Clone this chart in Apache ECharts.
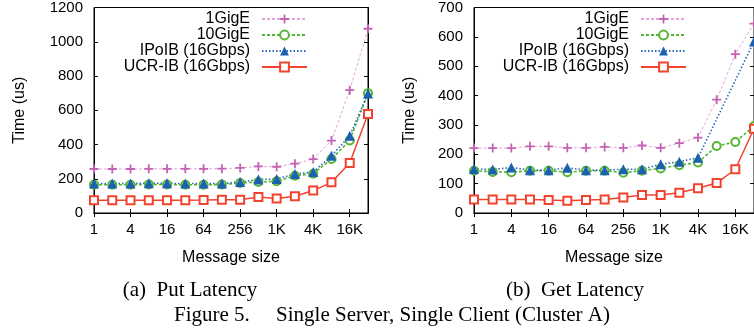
<!DOCTYPE html>
<html>
<head>
<meta charset="utf-8">
<script src="https://cdn.jsdelivr.net/npm/echarts@6/dist/echarts.min.js"></script>
<style>
html,body{margin:0;padding:0;background:#fff;}
#c{width:754px;height:329px;}
</style>
</head>
<body>
<div id="c"></div>
<script>
// Message sizes (bytes), log2 spaced
const categories = ['1','2','4','8','16','32','64','128','256','512','1K','2K','4K','8K','16K','32K'];
const seriesNames = ['1GigE','10GigE','IPoIB (16Gbps)','UCR-IB (16Gbps)'];

// (a) Put Latency, Time (us)
const putOneGigE  = [257,257,257,258,258,258,258,259,263,272,270,288,315,423,717,1076];
const putTenGigE  = [165,165,165,167,166,165,165,166,175,181,185,218,229,315,424,700];
const putIPoIB    = [172,172,172,174,173,172,172,172,181,195,199,228,239,334,451,698];
const putUCRIB    = [75,75,75,75,75,75,76,78,78,94,84,98,131,179,292,578];

// (b) Get Latency, Time (us)
const getOneGigE  = [221,221,221,227,227,222,222,225,222,230,222,238,257,386,541,645];
const getTenGigE  = [144,140,139,144,144,139,144,144,137,144,152,163,172,228,242,296];
const getIPoIB    = [150,148,155,146,146,154,146,146,149,149,166,175,188,null,null,584];
const getUCRIB    = [46,46,46,46,44,42,44,46,53,61,61,69,84,102,149,287];

const putYTicks = {min:0, max:1200, interval:200};
const getYTicks = {min:0, max:700, interval:100};

const captions = ['(a)  Put Latency', '(b)  Get Latency', 'Figure 5.     Single Server, Single Client (Cluster A)'];

const SANS = 'Liberation Sans, Arial, sans-serif';
const SERIF = 'Liberation Serif, Times New Roman, serif';

const styles = [
  {symbol:'path://M4,0H6V4H10V6H6V10H4V6H0V4H4Z', symbolSize:9, itemColor:'#c463b4', lineColor:'#e3a6da', type:[3,2], width:1},
  {symbol:'emptyCircle', symbolSize:8, itemColor:'#55b535', lineColor:'#55b535', type:[3,2], width:1.6},
  {symbol:'triangle', symbolSize:10, itemColor:'#1d5fb0', lineColor:'#2c68bd', type:[1.5,2], width:1.6},
  {symbol:'emptyRect', symbolSize:8, itemColor:'#f2432f', lineColor:'#f2432f', type:'solid', width:1.5}
];

function mkSeries(name, data, idx, gridIdx) {
  const s = styles[idx];
  return {
    type:'line', name:name, data:data,
    xAxisIndex: gridIdx*2, yAxisIndex: gridIdx*2,
    symbol:s.symbol, symbolSize:s.symbolSize,
    connectNulls:true, animation:false,
    itemStyle:{color:s.itemColor, borderColor:s.itemColor, borderWidth: (s.symbol.indexOf('empty')===0?1.5:0)},
    lineStyle:{color:s.lineColor, type:s.type, width:s.width}
  };
}

function xAxes(gridIdx) {
  const base = {
    type:'category', data:categories, gridIndex:gridIdx, boundaryGap:false,
    axisLine:{show:true, lineStyle:{color:'#000', width:1}},
    axisTick:{show:true, inside:true, length:4, interval:1, lineStyle:{color:'#000'}},
    splitLine:{show:false}
  };
  return [
    Object.assign({}, base, {
      position:'bottom',
      axisLabel:{interval:1, fontSize:15, color:'#000', fontFamily:SANS, margin:9},
      name:'Message size', nameLocation:'middle', nameGap:37,
      nameTextStyle:{fontSize:16, color:'#000', fontFamily:SANS}
    }),
    Object.assign({}, base, {position:'top', axisLabel:{show:false}})
  ];
}

function yAxes(gridIdx, t, nameGap) {
  const base = {
    type:'value', gridIndex:gridIdx, min:t.min, max:t.max, interval:t.interval,
    axisLine:{show:true, lineStyle:{color:'#000', width:1}},
    axisTick:{show:true, inside:true, length:4, lineStyle:{color:'#000'}},
    splitLine:{show:false}
  };
  return [
    Object.assign({}, base, {
      position:'left',
      axisLabel:{fontSize:15, color:'#000', fontFamily:SANS, margin:11, formatter:function(v){return String(v);}},
      name:'Time (us)', nameLocation:'middle', nameGap:nameGap,
      nameTextStyle:{fontSize:16, color:'#000', fontFamily:SANS}
    }),
    Object.assign({}, base, {position:'right', axisLabel:{show:false}})
  ];
}

function legend(right) {
  return {
    orient:'vertical', right:right, top:11, padding:0, itemGap:0,
    itemWidth:45, itemHeight:11, align:'right', data:seriesNames,
    textStyle:{fontSize:16, color:'#000', fontFamily:SANS, lineHeight:16, padding:[0,7,0,0]}
  };
}

const chart = echarts.init(document.getElementById('c'), null, {renderer:'canvas'});
chart.setOption({
  backgroundColor:'#fff',
  animation:false,
  grid:[
    {left:94, top:7, width:274, height:206, show:true, borderColor:'#000', borderWidth:1, containLabel:false},
    {left:474, top:7, width:283, height:206, show:true, borderColor:'#000', borderWidth:1, containLabel:false}
  ],
  xAxis: xAxes(0).concat(xAxes(1)),
  yAxis: yAxes(0, putYTicks, 66).concat(yAxes(1, getYTicks, 56)),
  legend:[legend(446), legend(67)],
  series:[
    mkSeries(seriesNames[0], putOneGigE, 0, 0),
    mkSeries(seriesNames[1], putTenGigE, 1, 0),
    mkSeries(seriesNames[2], putIPoIB, 2, 0),
    mkSeries(seriesNames[3], putUCRIB, 3, 0),
    mkSeries(seriesNames[0], getOneGigE, 0, 1),
    mkSeries(seriesNames[1], getTenGigE, 1, 1),
    mkSeries(seriesNames[2], getIPoIB, 2, 1),
    mkSeries(seriesNames[3], getUCRIB, 3, 1)
  ],
  graphic:[
    {type:'text', x:190, y:290, style:{text:captions[0], font:'21px '+SERIF, fill:'#000', textAlign:'center', textVerticalAlign:'middle'}},
    {type:'text', x:575, y:290, style:{text:captions[1], font:'21px '+SERIF, fill:'#000', textAlign:'center', textVerticalAlign:'middle'}},
    {type:'text', x:392, y:315, style:{text:captions[2], font:'21px '+SERIF, fill:'#000', textAlign:'center', textVerticalAlign:'middle'}}
  ]
});
</script>
</body>
</html>
